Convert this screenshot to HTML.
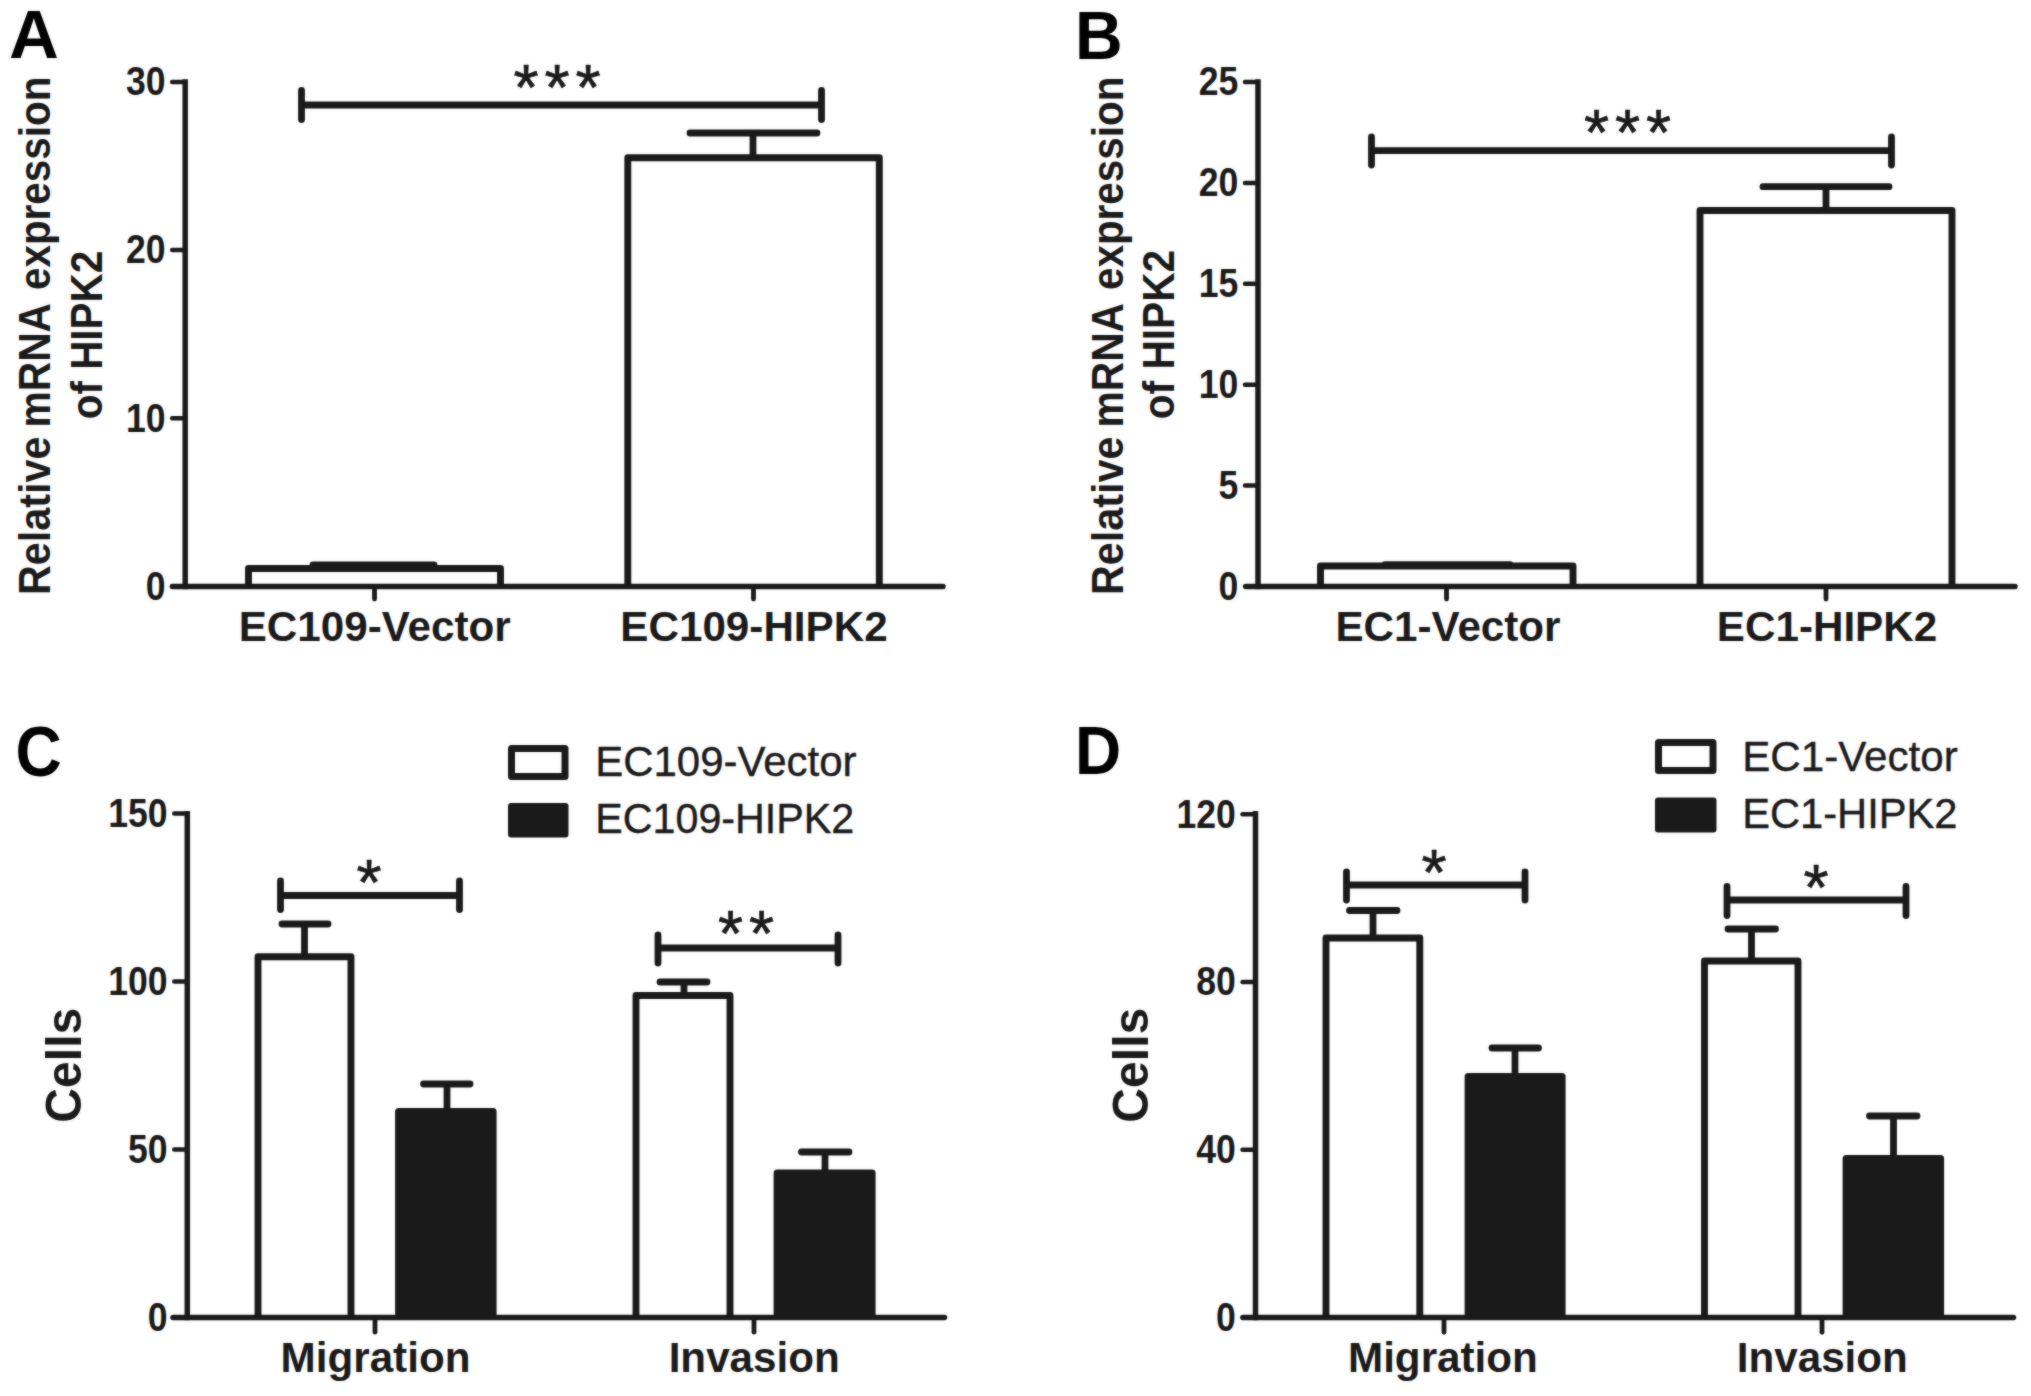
<!DOCTYPE html>
<html lang="en"><head><meta charset="utf-8"><title>HIPK2 expression, migration and invasion</title>
<style>
html,body{margin:0;padding:0;background:#fff;}
body{width:2031px;height:1396px;overflow:hidden;}
svg{display:block;font-family:"Liberation Sans",sans-serif;}
.soften{position:absolute;left:0;top:0;width:2031px;height:1396px;-webkit-backdrop-filter:blur(0.8px);backdrop-filter:blur(0.8px);opacity:0.45;pointer-events:none;}
</style></head><body>
<svg width="2031" height="1396" viewBox="0 0 2031 1396">
<rect width="2031" height="1396" fill="#fff"/>
<text transform="translate(9.00 58.20) scale(1 0.98)" font-size="69" font-weight="bold" text-anchor="start" fill="#000">A</text>
<path d="M248.50 586.50V568.50H500.50V586.50" fill="#fff" stroke="#1a1a1a" stroke-width="6.9" stroke-linejoin="round"/>
<line x1="313.00" y1="565.00" x2="434.00" y2="565.00" stroke="#1a1a1a" stroke-width="6.8" stroke-linecap="round"/>
<path d="M627.80 586.50V157.80H879.30V586.50" fill="#fff" stroke="#1a1a1a" stroke-width="6.9" stroke-linejoin="round"/>
<line x1="753.00" y1="133.00" x2="753.00" y2="158.00" stroke="#1a1a1a" stroke-width="6.8" stroke-linecap="butt"/>
<line x1="690.00" y1="133.00" x2="817.00" y2="133.00" stroke="#1a1a1a" stroke-width="6.8" stroke-linecap="round"/>
<line x1="185.20" y1="79.25" x2="185.20" y2="589.25" stroke="#1a1a1a" stroke-width="5.5" stroke-linecap="butt"/>
<line x1="172.40" y1="586.50" x2="943.00" y2="586.50" stroke="#1a1a1a" stroke-width="5.5" stroke-linecap="round"/>
<line x1="172.20" y1="81.90" x2="185.20" y2="81.90" stroke="#1a1a1a" stroke-width="4.5" stroke-linecap="round"/>
<text transform="translate(165.50 95.20) scale(1 1.13)" font-size="35.6" font-weight="bold" text-anchor="end" fill="#1a1a1a">30</text>
<line x1="172.20" y1="250.10" x2="185.20" y2="250.10" stroke="#1a1a1a" stroke-width="4.5" stroke-linecap="round"/>
<text transform="translate(165.50 263.40) scale(1 1.13)" font-size="35.6" font-weight="bold" text-anchor="end" fill="#1a1a1a">20</text>
<line x1="172.20" y1="418.30" x2="185.20" y2="418.30" stroke="#1a1a1a" stroke-width="4.5" stroke-linecap="round"/>
<text transform="translate(165.50 431.60) scale(1 1.13)" font-size="35.6" font-weight="bold" text-anchor="end" fill="#1a1a1a">10</text>
<line x1="172.20" y1="586.50" x2="185.20" y2="586.50" stroke="#1a1a1a" stroke-width="4.5" stroke-linecap="round"/>
<text transform="translate(165.50 599.80) scale(1 1.13)" font-size="35.6" font-weight="bold" text-anchor="end" fill="#1a1a1a">0</text>
<line x1="374.50" y1="586.50" x2="374.50" y2="599.00" stroke="#1a1a1a" stroke-width="4.8" stroke-linecap="round"/>
<line x1="753.50" y1="586.50" x2="753.50" y2="599.00" stroke="#1a1a1a" stroke-width="4.8" stroke-linecap="round"/>
<line x1="301.50" y1="105.00" x2="821.50" y2="105.00" stroke="#1a1a1a" stroke-width="6.8" stroke-linecap="butt"/>
<line x1="301.50" y1="90.50" x2="301.50" y2="119.50" stroke="#1a1a1a" stroke-width="6.8" stroke-linecap="round"/>
<line x1="821.50" y1="90.50" x2="821.50" y2="119.50" stroke="#1a1a1a" stroke-width="6.8" stroke-linecap="round"/>
<text transform="translate(559.95 110.10)" font-size="64.5" font-weight="normal" text-anchor="middle" fill="#1a1a1a" letter-spacing="5.9" stroke="#1a1a1a" stroke-width="0.7" stroke-linejoin="round">***</text>
<text transform="translate(374.70 641.00)" font-size="42.2" font-weight="bold" text-anchor="middle" fill="#1a1a1a">EC109-Vector</text>
<text transform="translate(754.00 641.00)" font-size="42.2" font-weight="bold" text-anchor="middle" fill="#1a1a1a">EC109-HIPK2</text>
<text transform="translate(50.30 595.00) rotate(-90) scale(1 1.06)" font-size="41.5" font-weight="bold" text-anchor="start" fill="#1a1a1a"><tspan x="0.0" textLength="158.6" lengthAdjust="spacingAndGlyphs">Relative</tspan> <tspan x="167.6" textLength="124.4" lengthAdjust="spacingAndGlyphs">mRNA</tspan> <tspan x="304.9" textLength="213.6" lengthAdjust="spacingAndGlyphs">expression</tspan></text>
<text transform="translate(101.50 335.00) rotate(-90) scale(1 1.06)" font-size="41.5" font-weight="bold" text-anchor="middle" fill="#1a1a1a" textLength="168.6" lengthAdjust="spacingAndGlyphs">of HIPK2</text>
<text transform="translate(1075.00 58.70) scale(1 1.035)" font-size="66" font-weight="bold" text-anchor="start" fill="#000">B</text>
<path d="M1320.50 586.50V566.00H1573.00V586.50" fill="#fff" stroke="#1a1a1a" stroke-width="6.9" stroke-linejoin="round"/>
<line x1="1385.00" y1="564.60" x2="1510.00" y2="564.60" stroke="#1a1a1a" stroke-width="6.8" stroke-linecap="round"/>
<path d="M1700.00 586.50V210.50H1952.00V586.50" fill="#fff" stroke="#1a1a1a" stroke-width="6.9" stroke-linejoin="round"/>
<line x1="1826.00" y1="186.70" x2="1826.00" y2="210.00" stroke="#1a1a1a" stroke-width="6.8" stroke-linecap="butt"/>
<line x1="1763.00" y1="186.70" x2="1889.00" y2="186.70" stroke="#1a1a1a" stroke-width="6.8" stroke-linecap="round"/>
<line x1="1258.00" y1="79.25" x2="1258.00" y2="589.25" stroke="#1a1a1a" stroke-width="5.5" stroke-linecap="butt"/>
<line x1="1246.00" y1="586.50" x2="2015.00" y2="586.50" stroke="#1a1a1a" stroke-width="5.5" stroke-linecap="round"/>
<line x1="1245.00" y1="82.00" x2="1258.00" y2="82.00" stroke="#1a1a1a" stroke-width="4.5" stroke-linecap="round"/>
<text transform="translate(1238.30 95.30) scale(1 1.13)" font-size="35.6" font-weight="bold" text-anchor="end" fill="#1a1a1a">25</text>
<line x1="1245.00" y1="182.90" x2="1258.00" y2="182.90" stroke="#1a1a1a" stroke-width="4.5" stroke-linecap="round"/>
<text transform="translate(1238.30 196.20) scale(1 1.13)" font-size="35.6" font-weight="bold" text-anchor="end" fill="#1a1a1a">20</text>
<line x1="1245.00" y1="283.80" x2="1258.00" y2="283.80" stroke="#1a1a1a" stroke-width="4.5" stroke-linecap="round"/>
<text transform="translate(1238.30 297.10) scale(1 1.13)" font-size="35.6" font-weight="bold" text-anchor="end" fill="#1a1a1a">15</text>
<line x1="1245.00" y1="384.70" x2="1258.00" y2="384.70" stroke="#1a1a1a" stroke-width="4.5" stroke-linecap="round"/>
<text transform="translate(1238.30 398.00) scale(1 1.13)" font-size="35.6" font-weight="bold" text-anchor="end" fill="#1a1a1a">10</text>
<line x1="1245.00" y1="485.60" x2="1258.00" y2="485.60" stroke="#1a1a1a" stroke-width="4.5" stroke-linecap="round"/>
<text transform="translate(1238.30 498.90) scale(1 1.13)" font-size="35.6" font-weight="bold" text-anchor="end" fill="#1a1a1a">5</text>
<line x1="1245.00" y1="586.50" x2="1258.00" y2="586.50" stroke="#1a1a1a" stroke-width="4.5" stroke-linecap="round"/>
<text transform="translate(1238.30 599.80) scale(1 1.13)" font-size="35.6" font-weight="bold" text-anchor="end" fill="#1a1a1a">0</text>
<line x1="1446.50" y1="586.50" x2="1446.50" y2="599.00" stroke="#1a1a1a" stroke-width="4.8" stroke-linecap="round"/>
<line x1="1826.00" y1="586.50" x2="1826.00" y2="599.00" stroke="#1a1a1a" stroke-width="4.8" stroke-linecap="round"/>
<line x1="1371.50" y1="150.70" x2="1891.50" y2="150.70" stroke="#1a1a1a" stroke-width="6.8" stroke-linecap="butt"/>
<line x1="1371.50" y1="137.00" x2="1371.50" y2="165.00" stroke="#1a1a1a" stroke-width="6.8" stroke-linecap="round"/>
<line x1="1891.50" y1="137.00" x2="1891.50" y2="165.00" stroke="#1a1a1a" stroke-width="6.8" stroke-linecap="round"/>
<text transform="translate(1630.45 154.81)" font-size="64.5" font-weight="normal" text-anchor="middle" fill="#1a1a1a" letter-spacing="5.9" stroke="#1a1a1a" stroke-width="0.7" stroke-linejoin="round">***</text>
<text transform="translate(1448.00 641.00)" font-size="42.2" font-weight="bold" text-anchor="middle" fill="#1a1a1a">EC1-Vector</text>
<text transform="translate(1827.00 641.00)" font-size="42.2" font-weight="bold" text-anchor="middle" fill="#1a1a1a">EC1-HIPK2</text>
<text transform="translate(1123.00 595.00) rotate(-90) scale(1 1.06)" font-size="41.5" font-weight="bold" text-anchor="start" fill="#1a1a1a"><tspan x="0.0" textLength="158.6" lengthAdjust="spacingAndGlyphs">Relative</tspan> <tspan x="167.6" textLength="124.4" lengthAdjust="spacingAndGlyphs">mRNA</tspan> <tspan x="304.9" textLength="213.6" lengthAdjust="spacingAndGlyphs">expression</tspan></text>
<text transform="translate(1174.30 334.60) rotate(-90) scale(1 1.06)" font-size="41.5" font-weight="bold" text-anchor="middle" fill="#1a1a1a" textLength="169.4" lengthAdjust="spacingAndGlyphs">of HIPK2</text>
<text transform="translate(15.50 775.50) scale(1 1.105)" font-size="64" font-weight="bold" text-anchor="start" fill="#000">C</text>
<path d="M258.00 1317.50V956.70H351.00V1317.50" fill="#fff" stroke="#1a1a1a" stroke-width="6.9" stroke-linejoin="round"/>
<line x1="304.50" y1="924.00" x2="304.50" y2="956.00" stroke="#1a1a1a" stroke-width="6.8" stroke-linecap="butt"/>
<line x1="282.00" y1="924.00" x2="328.00" y2="924.00" stroke="#1a1a1a" stroke-width="6.8" stroke-linecap="round"/>
<rect x="395.10" y="1108.00" width="101.50" height="209.50" rx="3.5" fill="#1a1a1a"/>
<line x1="447.00" y1="1084.00" x2="447.00" y2="1110.00" stroke="#1a1a1a" stroke-width="6.8" stroke-linecap="butt"/>
<line x1="423.50" y1="1084.00" x2="470.00" y2="1084.00" stroke="#1a1a1a" stroke-width="6.8" stroke-linecap="round"/>
<path d="M636.00 1317.50V995.50H730.00V1317.50" fill="#fff" stroke="#1a1a1a" stroke-width="6.9" stroke-linejoin="round"/>
<line x1="684.00" y1="982.00" x2="684.00" y2="995.00" stroke="#1a1a1a" stroke-width="6.8" stroke-linecap="butt"/>
<line x1="660.00" y1="982.00" x2="707.00" y2="982.00" stroke="#1a1a1a" stroke-width="6.8" stroke-linecap="round"/>
<rect x="773.60" y="1169.50" width="102.00" height="148.00" rx="3.5" fill="#1a1a1a"/>
<line x1="825.00" y1="1152.00" x2="825.00" y2="1171.00" stroke="#1a1a1a" stroke-width="6.8" stroke-linecap="butt"/>
<line x1="801.50" y1="1152.00" x2="849.00" y2="1152.00" stroke="#1a1a1a" stroke-width="6.8" stroke-linecap="round"/>
<line x1="187.30" y1="811.05" x2="187.30" y2="1320.25" stroke="#1a1a1a" stroke-width="5.5" stroke-linecap="butt"/>
<line x1="173.00" y1="1317.50" x2="944.50" y2="1317.50" stroke="#1a1a1a" stroke-width="5.5" stroke-linecap="round"/>
<line x1="174.30" y1="813.50" x2="187.30" y2="813.50" stroke="#1a1a1a" stroke-width="4.5" stroke-linecap="round"/>
<text transform="translate(167.60 826.80) scale(1 1.13)" font-size="35.6" font-weight="bold" text-anchor="end" fill="#1a1a1a">150</text>
<line x1="174.30" y1="981.50" x2="187.30" y2="981.50" stroke="#1a1a1a" stroke-width="4.5" stroke-linecap="round"/>
<text transform="translate(167.60 994.80) scale(1 1.13)" font-size="35.6" font-weight="bold" text-anchor="end" fill="#1a1a1a">100</text>
<line x1="174.30" y1="1149.50" x2="187.30" y2="1149.50" stroke="#1a1a1a" stroke-width="4.5" stroke-linecap="round"/>
<text transform="translate(167.60 1162.80) scale(1 1.13)" font-size="35.6" font-weight="bold" text-anchor="end" fill="#1a1a1a">50</text>
<line x1="174.30" y1="1317.50" x2="187.30" y2="1317.50" stroke="#1a1a1a" stroke-width="4.5" stroke-linecap="round"/>
<text transform="translate(167.60 1330.80) scale(1 1.13)" font-size="35.6" font-weight="bold" text-anchor="end" fill="#1a1a1a">0</text>
<line x1="375.00" y1="1317.50" x2="375.00" y2="1332.20" stroke="#1a1a1a" stroke-width="4.8" stroke-linecap="round"/>
<line x1="754.00" y1="1317.50" x2="754.00" y2="1332.20" stroke="#1a1a1a" stroke-width="4.8" stroke-linecap="round"/>
<line x1="280.50" y1="895.50" x2="459.50" y2="895.50" stroke="#1a1a1a" stroke-width="6.8" stroke-linecap="butt"/>
<line x1="280.50" y1="881.00" x2="280.50" y2="909.50" stroke="#1a1a1a" stroke-width="6.8" stroke-linecap="round"/>
<line x1="459.50" y1="881.00" x2="459.50" y2="909.50" stroke="#1a1a1a" stroke-width="6.8" stroke-linecap="round"/>
<text transform="translate(371.95 905.40)" font-size="64.5" font-weight="normal" text-anchor="middle" fill="#1a1a1a" letter-spacing="5.9" stroke="#1a1a1a" stroke-width="0.7" stroke-linejoin="round">*</text>
<line x1="658.00" y1="948.00" x2="838.00" y2="948.00" stroke="#1a1a1a" stroke-width="6.8" stroke-linecap="butt"/>
<line x1="658.00" y1="935.00" x2="658.00" y2="963.00" stroke="#1a1a1a" stroke-width="6.8" stroke-linecap="round"/>
<line x1="838.00" y1="935.00" x2="838.00" y2="963.00" stroke="#1a1a1a" stroke-width="6.8" stroke-linecap="round"/>
<text transform="translate(748.95 955.50)" font-size="64.5" font-weight="normal" text-anchor="middle" fill="#1a1a1a" letter-spacing="5.9" stroke="#1a1a1a" stroke-width="0.7" stroke-linejoin="round">**</text>
<text transform="translate(375.50 1371.90)" font-size="42.2" font-weight="bold" text-anchor="middle" fill="#1a1a1a">Migration</text>
<text transform="translate(754.20 1371.90)" font-size="42.2" font-weight="bold" text-anchor="middle" fill="#1a1a1a">Invasion</text>
<text transform="translate(81.00 1065.20) rotate(-90) scale(1 1.05)" font-size="48.1" font-weight="bold" text-anchor="middle" fill="#1a1a1a">Cells</text>
<rect x="511.5" y="748.5" width="53.5" height="28" fill="#fff" stroke="#1a1a1a" stroke-width="7" stroke-linejoin="round"/>
<rect x="508" y="803" width="60.5" height="34.5" rx="3" fill="#1a1a1a"/>
<text transform="translate(595.20 775.60) scale(1 1.02)" font-size="42" font-weight="normal" text-anchor="start" fill="#1a1a1a" stroke="#1a1a1a" stroke-width="0.4" stroke-linejoin="round">EC109-Vector</text>
<text transform="translate(595.20 833.40) scale(1 1.02)" font-size="42" font-weight="normal" text-anchor="start" fill="#1a1a1a" textLength="259.1" lengthAdjust="spacingAndGlyphs" stroke="#1a1a1a" stroke-width="0.4" stroke-linejoin="round">EC109-HIPK2</text>
<text transform="translate(1075.00 774.30) scale(1 1.078)" font-size="64" font-weight="bold" text-anchor="start" fill="#000">D</text>
<path d="M1326.00 1317.60V938.00H1419.80V1317.60" fill="#fff" stroke="#1a1a1a" stroke-width="6.9" stroke-linejoin="round"/>
<line x1="1373.00" y1="910.50" x2="1373.00" y2="938.00" stroke="#1a1a1a" stroke-width="6.8" stroke-linecap="butt"/>
<line x1="1349.50" y1="910.50" x2="1397.00" y2="910.50" stroke="#1a1a1a" stroke-width="6.8" stroke-linecap="round"/>
<rect x="1464.60" y="1073.00" width="101.00" height="244.60" rx="3.5" fill="#1a1a1a"/>
<line x1="1515.00" y1="1048.00" x2="1515.00" y2="1075.00" stroke="#1a1a1a" stroke-width="6.8" stroke-linecap="butt"/>
<line x1="1492.00" y1="1048.00" x2="1538.50" y2="1048.00" stroke="#1a1a1a" stroke-width="6.8" stroke-linecap="round"/>
<path d="M1704.50 1317.60V961.00H1798.00V1317.60" fill="#fff" stroke="#1a1a1a" stroke-width="6.9" stroke-linejoin="round"/>
<line x1="1751.50" y1="929.00" x2="1751.50" y2="961.00" stroke="#1a1a1a" stroke-width="6.8" stroke-linecap="butt"/>
<line x1="1728.00" y1="929.00" x2="1775.50" y2="929.00" stroke="#1a1a1a" stroke-width="6.8" stroke-linecap="round"/>
<rect x="1842.60" y="1155.00" width="101.50" height="162.60" rx="3.5" fill="#1a1a1a"/>
<line x1="1893.50" y1="1116.00" x2="1893.50" y2="1157.00" stroke="#1a1a1a" stroke-width="6.8" stroke-linecap="butt"/>
<line x1="1869.50" y1="1116.00" x2="1917.00" y2="1116.00" stroke="#1a1a1a" stroke-width="6.8" stroke-linecap="round"/>
<line x1="1255.50" y1="811.05" x2="1255.50" y2="1320.35" stroke="#1a1a1a" stroke-width="5.5" stroke-linecap="butt"/>
<line x1="1243.00" y1="1317.60" x2="2013.50" y2="1317.60" stroke="#1a1a1a" stroke-width="5.5" stroke-linecap="round"/>
<line x1="1242.50" y1="814.20" x2="1255.50" y2="814.20" stroke="#1a1a1a" stroke-width="4.5" stroke-linecap="round"/>
<text transform="translate(1235.80 827.50) scale(1 1.13)" font-size="35.6" font-weight="bold" text-anchor="end" fill="#1a1a1a">120</text>
<line x1="1242.50" y1="982.00" x2="1255.50" y2="982.00" stroke="#1a1a1a" stroke-width="4.5" stroke-linecap="round"/>
<text transform="translate(1235.80 995.30) scale(1 1.13)" font-size="35.6" font-weight="bold" text-anchor="end" fill="#1a1a1a">80</text>
<line x1="1242.50" y1="1149.80" x2="1255.50" y2="1149.80" stroke="#1a1a1a" stroke-width="4.5" stroke-linecap="round"/>
<text transform="translate(1235.80 1163.10) scale(1 1.13)" font-size="35.6" font-weight="bold" text-anchor="end" fill="#1a1a1a">40</text>
<line x1="1242.50" y1="1317.60" x2="1255.50" y2="1317.60" stroke="#1a1a1a" stroke-width="4.5" stroke-linecap="round"/>
<text transform="translate(1235.80 1330.90) scale(1 1.13)" font-size="35.6" font-weight="bold" text-anchor="end" fill="#1a1a1a">0</text>
<line x1="1444.00" y1="1317.60" x2="1444.00" y2="1332.30" stroke="#1a1a1a" stroke-width="4.8" stroke-linecap="round"/>
<line x1="1822.00" y1="1317.60" x2="1822.00" y2="1332.30" stroke="#1a1a1a" stroke-width="4.8" stroke-linecap="round"/>
<line x1="1346.50" y1="885.00" x2="1525.00" y2="885.00" stroke="#1a1a1a" stroke-width="6.8" stroke-linecap="butt"/>
<line x1="1346.50" y1="872.00" x2="1346.50" y2="900.00" stroke="#1a1a1a" stroke-width="6.8" stroke-linecap="round"/>
<line x1="1525.00" y1="872.00" x2="1525.00" y2="900.00" stroke="#1a1a1a" stroke-width="6.8" stroke-linecap="round"/>
<text transform="translate(1436.95 894.80)" font-size="64.5" font-weight="normal" text-anchor="middle" fill="#1a1a1a" letter-spacing="5.9" stroke="#1a1a1a" stroke-width="0.7" stroke-linejoin="round">*</text>
<line x1="1727.00" y1="900.00" x2="1906.00" y2="900.00" stroke="#1a1a1a" stroke-width="6.8" stroke-linecap="butt"/>
<line x1="1727.00" y1="886.50" x2="1727.00" y2="915.50" stroke="#1a1a1a" stroke-width="6.8" stroke-linecap="round"/>
<line x1="1906.00" y1="886.50" x2="1906.00" y2="915.50" stroke="#1a1a1a" stroke-width="6.8" stroke-linecap="round"/>
<text transform="translate(1818.95 909.71)" font-size="64.5" font-weight="normal" text-anchor="middle" fill="#1a1a1a" letter-spacing="5.9" stroke="#1a1a1a" stroke-width="0.7" stroke-linejoin="round">*</text>
<text transform="translate(1442.90 1371.90)" font-size="42.2" font-weight="bold" text-anchor="middle" fill="#1a1a1a">Migration</text>
<text transform="translate(1822.30 1371.90)" font-size="42.2" font-weight="bold" text-anchor="middle" fill="#1a1a1a">Invasion</text>
<text transform="translate(1148.30 1065.20) rotate(-90) scale(1 1.05)" font-size="48.1" font-weight="bold" text-anchor="middle" fill="#1a1a1a">Cells</text>
<rect x="1658.5" y="742.5" width="54.5" height="28" fill="#fff" stroke="#1a1a1a" stroke-width="7" stroke-linejoin="round"/>
<rect x="1655" y="797.5" width="61.5" height="35" rx="3" fill="#1a1a1a"/>
<text transform="translate(1742.20 770.50)" font-size="42" font-weight="normal" text-anchor="start" fill="#1a1a1a" textLength="215.5" lengthAdjust="spacingAndGlyphs" stroke="#1a1a1a" stroke-width="0.4" stroke-linejoin="round">EC1-Vector</text>
<text transform="translate(1742.20 827.70)" font-size="42" font-weight="normal" text-anchor="start" fill="#1a1a1a" textLength="215.3" lengthAdjust="spacingAndGlyphs" stroke="#1a1a1a" stroke-width="0.4" stroke-linejoin="round">EC1-HIPK2</text>
</svg>
<div class="soften"></div>
</body></html>
